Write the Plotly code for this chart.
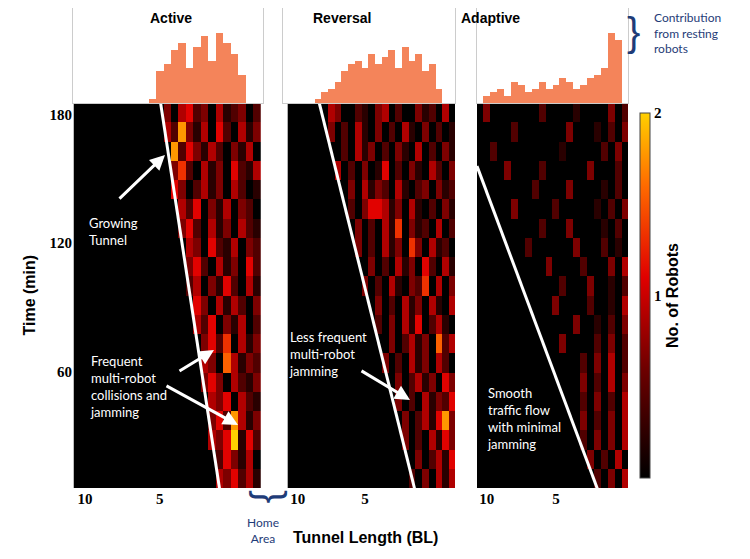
import plotly.graph_objects as go

# column centres (tunnel length, BL) and row centres (time, min)
tunnel_bl = [10.5 - 0.5 * i for i in range(25)]
time_min = [10 + 9 * i for i in range(20)]

# intensity digits 0-9 (9 -> 2 robots), rows listed top (t=181) to bottom (t=10)
active_rows = [
    "3045230412302", "4283140520413", "825314203140", "362041305214",
    "530241304201", "42503140320", "35204130421", "4305214032",
    "3520413052", "2403152041", "530414203", "425031402",
    "35260413", "43074132", "35304213", "4350421",
    "3528413", "4359152", "253140", "435241",
]
reversal_rows = [
    "04300210340200312040", "3020410302041030201", "020413020310402031",
    "402030150203104203", "03041320410230312", "2035541304102031",
    "0302041603120402", "302041306304120", "03020413052041",
    "30204103260403", "0302041304104", "203041502410",
    "03024130724", "30204130420", "0302413053",
    "302041325", "030241583", "30204153", "0302415", "2030414",
]
adaptive_rows = [
    "0300000002000010000302030", "0000020000000300010203040",
    "0020000000001000002030204", "0000300002000000300020305",
    "000000020000300001020304", "00030000020000010203040",
    "0000002000300001020304", "000200000030002010304",
    "0000300002000304020", "000002000300102030",
    "00030000200104030", "0000030010203040",
    "003000020302030", "00002030402030",
    "0003020403040", "002030204030",
    "03020304020", "2030304030", "302040304", "20304030",
]

active_hist = [0, 0, 0, 0, 0, 0, 0, 0, 0, 0, 5, 45, 55, 75, 85, 50, 80, 95, 60, 100, 85, 70, 40, 0, 0]
reversal_hist = [0, 0, 0, 0, 5, 15, 20, 30, 45, 55, 60, 50, 70, 55, 65, 75, 50, 80, 60, 70, 45, 55, 20, 0, 0]
adaptive_hist = [0, 10, 15, 20, 10, 30, 25, 15, 20, 30, 20, 25, 35, 30, 20, 25, 35, 40, 50, 100, 90, 0, 0, 0, 0]

# wall lines (x BL, t min)
active_wall = ([5.0, 1.0], [188, 5])
reversal_wall = ([8.5, 1.3], [188, 5])
adaptive_wall = ([10.7, 2.0], [156, 5])

x_ranges = [[10.8, -1.9], [11.1, -1.7], [10.7, -0.2]]
titles = ["Active", "Reversal", "Adaptive"]
title_px = [148, 342, 522]

OFF = 8  # page offset of the plot in the browser


def px(x, y):
    return (x - OFF) / 750, min(1.0, 1 - (y - OFF) / 559)


x_domains = [[px(73, 0)[0], px(263, 0)[0]], [px(283, 0)[0], px(455, 0)[0]], [px(477, 0)[0], px(628, 0)[0]]]
heat_dom = [px(0, 488)[1], px(0, 103)[1]]
hist_dom = [px(0, 103)[1], px(0, 3)[1]]


def to_matrix(rows):
    z = []
    for r in reversed(rows):
        r = r.rjust(25, "0")[-25:]
        z.append([int(c) / 4.5 for c in r])
    return z


colors = [[0, "black"], [0.3, "#6e0000"], [0.55, "#e00000"], [0.8, "#ff6a00"], [1, "#ffd000"]]
tick_font = dict(family="Liberation Serif", size=15, color="black", weight="bold")
fig = go.Figure()
panels = [(active_rows, active_hist, active_wall), (reversal_rows, reversal_hist, reversal_wall),
          (adaptive_rows, adaptive_hist, adaptive_wall)]
layout = {}
for i, (rows, hist, wall) in enumerate(panels):
    n = i + 1
    hx = f"x{n}"
    hy = f"y{n}"
    cbar = dict(x=px(630, 0)[0], xanchor="left", y=heat_dom[0], yanchor="bottom",
                len=heat_dom[1] - heat_dom[0], thickness=10, tickvals=[1, 2], outlinewidth=1, ticks="",
                tickfont=tick_font,
                title=dict(text="<b>No. of Robots</b>", side="right",
                           font=dict(family="Liberation Sans", size=16, color="black")))
    fig.add_trace(go.Heatmap(z=to_matrix(rows), x=tunnel_bl, y=time_min, colorscale=colors,
                             zmin=0, zmax=2, xaxis=hx, yaxis=hy, showscale=(n == 3), colorbar=cbar))
    fig.add_trace(go.Scatter(x=wall[0], y=wall[1], mode="lines", line=dict(color="white", width=3),
                             xaxis=hx, yaxis=hy, showlegend=False, hoverinfo="skip"))
    fig.add_trace(go.Bar(x=tunnel_bl, y=hist, width=0.5, marker=dict(color="#f4845a", line_width=0),
                         xaxis=f"x{n + 3}", yaxis=f"y{n + 3}", showlegend=False))
    layout[f"xaxis{n}"] = dict(domain=x_domains[i], range=x_ranges[i], anchor=hy, tickvals=[10, 5],
                               ticks="", showgrid=False, zeroline=False, tickfont=tick_font)
    layout[f"yaxis{n}"] = dict(domain=heat_dom, range=[5.5, 185.5], anchor=hx,
                               tickvals=[60, 120, 180], showticklabels=(n == 1), ticks="",
                               showgrid=False, zeroline=False, tickfont=tick_font)
    layout[f"xaxis{n + 3}"] = dict(domain=x_domains[i], range=x_ranges[i], anchor=f"y{n + 3}",
                                   showticklabels=False, ticks="", showgrid=False, zeroline=False,
                                   showline=True, mirror=True, linecolor="#cccccc")
    layout[f"yaxis{n + 3}"] = dict(domain=hist_dom, range=[0, 135], anchor=f"x{n + 3}",
                                   showticklabels=False, ticks="", showgrid=False, zeroline=False,
                                   showline=True, mirror=True, linecolor="#cccccc")

fig.update_layout(width=750, height=559, margin=dict(l=0, r=0, t=0, b=0, autoexpand=False), bargap=0,
                  paper_bgcolor="white", plot_bgcolor="white", showlegend=False, **layout)

ann = []
for t, x in zip(titles, title_px):
    a, b = px(x, 18)
    ann.append(dict(x=a, y=b, text=f"<b>{t}</b>", showarrow=False, yanchor="middle",
                    font=dict(family="Liberation Sans", size=14, color="black")))

white_texts = [
    (87, 232, "Growing<br>Tunnel"),
    (88, 386, "Frequent<br>multi-robot<br>collisions and<br>jamming"),
    (287, 354, "Less frequent<br>multi-robot<br>jamming"),
    (485, 418, "Smooth<br>traffic flow<br>with minimal<br>jamming"),
]
for x, y, t in white_texts:
    a, b = px(x, y)
    ann.append(dict(x=a, y=b, text=t, showarrow=False, xanchor="left", align="left", yanchor="middle",
                    font=dict(family="Lato", size=13, color="white")))

arrows = [((118, 200), (165, 155)), ((178, 372), (214, 350)), ((165, 385), (238, 425)),
          ((360, 370), (410, 400))]
for (tx, ty), (hx_, hy_) in arrows:
    a, b = px(hx_, hy_)
    ann.append(dict(x=a, y=b, ax=tx - hx_, ay=ty - hy_, text="", showarrow=True, arrowhead=2,
                    arrowsize=1, arrowwidth=3, arrowcolor="white"))

blue = "#1f3c78"
ann += [
    dict(x=px(652, 0)[0], y=px(0, 33)[1], text="Contribution<br>from resting<br>robots", showarrow=False,
         xanchor="left", align="left", yanchor="middle", font=dict(family="Lato", size=12, color=blue)),
    dict(x=px(642, 0)[0], y=px(0, 32)[1], text="}", showarrow=False, yanchor="middle",
         font=dict(family="Liberation Sans", size=40, color=blue)),
    dict(x=px(247, 0)[0], y=px(0, 496)[1], text="}", showarrow=False, textangle=90, yanchor="middle",
         font=dict(family="Liberation Sans", size=40, color=blue)),
    dict(x=px(245, 0)[0], y=px(0, 530)[1], text="Home<br>Area", showarrow=False, yanchor="middle",
         font=dict(family="Lato", size=12, color=blue)),
    dict(x=px(365, 0)[0], y=px(0, 537)[1], text="<b>Tunnel Length (BL)</b>", showarrow=False,
         yanchor="middle", font=dict(family="Liberation Sans", size=16, color="black")),
    dict(x=px(18, 0)[0], y=px(0, 295)[1], text="<b>Time (min)</b>", showarrow=False, textangle=-90,
         yanchor="middle", font=dict(family="Liberation Sans", size=16, color="black")),
]
for a in ann:
    a["xref"] = "paper"
    a["yref"] = "paper"
fig.update_layout(annotations=ann)
fig.write_html("out.html")
